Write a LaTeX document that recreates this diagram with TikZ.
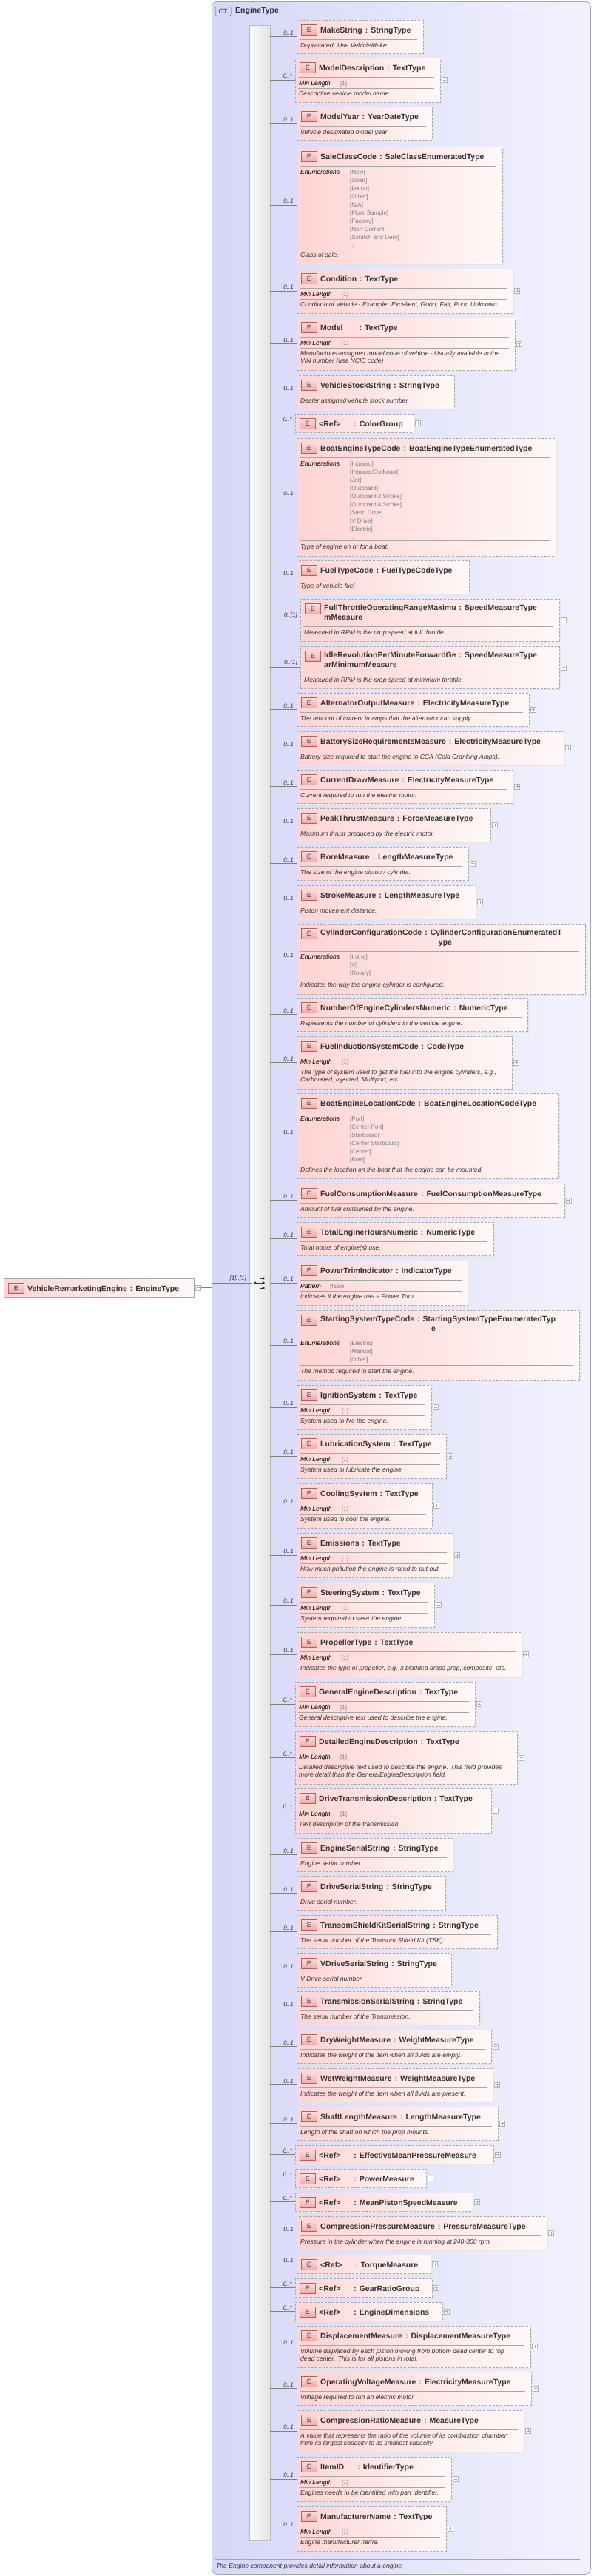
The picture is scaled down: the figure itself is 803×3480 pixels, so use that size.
\documentclass[tikz,border=0pt]{standalone}
\usepackage{fontspec}
\setmainfont{Liberation Sans}
\usetikzlibrary{shadows}
\definecolor{ctL}{HTML}{D6D6F8}
\definecolor{ctR}{HTML}{F2F2FE}
\definecolor{eL}{HTML}{FFD4D4}
\definecolor{eR}{HTML}{FFF8F8}
\definecolor{tx}{HTML}{333333}
\definecolor{bd}{HTML}{A8A8A8}
\definecolor{iconB}{HTML}{B06060}
\definecolor{iconF}{HTML}{F4A8A8}
\tikzset{
 ebox/.style={draw=bd, line width=0.8pt, dash pattern=on 3pt off 2pt, left color=eL, right color=eR, inner sep=0pt, outer sep=0pt, general shadow={fill=black!10, shadow xshift=2pt, shadow yshift=-2pt}},
 rootbox/.style={draw=bd, line width=0.8pt, left color=eL, right color=eR, inner sep=0pt, outer sep=0pt, general shadow={fill=black!10, shadow xshift=2pt, shadow yshift=-2pt}},
 eicon/.style={draw=iconB, line width=0.6pt, top color=white!60!iconF, bottom color=iconF, minimum width=21pt, minimum height=14pt, inner sep=0pt, font=\fontsize{9}{9}\selectfont, text=tx},
 ttl/.style={anchor=base west, inner sep=0pt, font=\fontsize{10.5}{12}\selectfont\bfseries, text=tx},
 dsc/.style={anchor=base west, inner sep=0pt, font=\fontsize{8.6}{10}\selectfont\itshape, text=tx},
 fct/.style={anchor=base west, inner sep=0pt, font=\fontsize{8.6}{10}\selectfont\itshape, text=black},
 val/.style={anchor=base west, inner sep=0pt, font=\fontsize{8}{10}\selectfont, text=gray},
 enm/.style={anchor=north west, inner sep=0pt, align=left, font=\fontsize{8}{11}\selectfont, text=gray},
 card/.style={anchor=south east, inner sep=0pt, font=\fontsize{8}{9}\selectfont\itshape, text=tx},
 conn/.style={draw=gray, line width=0.6pt},
 sepl/.style={draw=gray!70, line width=0.6pt},
 plusbox/.style={draw=gray!60, fill=white, minimum size=7pt, inner sep=0pt},
 ctbox/.style={draw=gray!70, line width=0.8pt, rounded corners=7pt, left color=ctL, right color=ctR, inner sep=0pt},
 ctbadge/.style={draw=gray!80!blue, rounded corners=2pt, fill=ctL!70!blue!40, minimum width=21pt, minimum height=12pt, inner sep=0pt, font=\fontsize{9}{9}\selectfont, text=tx},
 seqbar/.style={draw=gray!55, left color=gray!3, right color=gray!22, inner sep=0pt, general shadow={fill=black!10, shadow xshift=2pt, shadow yshift=-2pt}},
}
\newcommand\tyy[2]{#1\hspace{4pt}:\hspace{4pt}#2}
\newcommand\eb[7]{%
 \pgfmathsetmacro\ebw{#4-#2}\pgfmathsetmacro\ebh{#5-#3}%
 \node[ebox, minimum width=\ebw pt, minimum height=\ebh pt, anchor=north west] (#1) at (#2,#3) {};
 \draw[conn] (seq.east |- #1.west) -- (#1.west);
 \node[card] at ([xshift=-4pt,yshift=2pt]#1.west) {#6};
 \node[eicon, anchor=north west] at ([xshift=6pt,yshift=-6pt]#1.north west) {E};
 \ifnum#7=1
  \node[plusbox] (#1p) at ([xshift=6pt]#1.east) {};
  \draw[gray!70] ([xshift=-2pt]#1p.center) -- ([xshift=2pt]#1p.center) ([yshift=-2pt]#1p.center) -- ([yshift=2pt]#1p.center);
 \fi}
\newcommand\eT[2]{\node[ttl] at ([xshift=32pt,yshift=-17pt]#1.north west) {#2};}
\newcommand\eS[2]{\draw[sepl] ([xshift=4pt,yshift=-#2pt]#1.north west) -- ([xshift=-8pt,yshift=-#2pt]#1.north east);}
\newcommand\eD[3]{\node[dsc] at ([xshift=5pt,yshift=-#2pt]#1.north west) {#3};}
\newcommand\eF[5]{\node[fct] at ([xshift=5pt,yshift=-#2pt]#1.north west) {#3};\node[val] at ([xshift=#4pt,yshift=-#2pt]#1.north west) {#5};}
\newcommand\eEN[3]{\node[fct] at ([xshift=5pt,yshift=-#2pt]#1.north west) {Enumerations};%
 \pgfmathsetmacro\ent{#2-5.9}\node[enm] at ([xshift=72pt,yshift=-\ent pt]#1.north west) {#3};}
\newcommand\eA[8]{\pgfmathsetmacro\bb{#3+45}\eb{#1}{#2}{#3}{#4}{\bb}{#5}{#6}\eT{#1}{#7}\eS{#1}{26}\eD{#1}{37}{#8}}
\newcommand\eAT[9]{\pgfmathsetmacro\bb{#3+56}\eb{#1}{#2}{#3}{#4}{\bb}{#5}{#6}\eT{#1}{#7}\eS{#1}{26}\eD{#1}{37}{#8}\eD{#1}{47}{#9}}
\newcommand\eB[8]{\pgfmathsetmacro\bb{#3+60}\eb{#1}{#2}{#3}{#4}{\bb}{#5}{#6}\eT{#1}{#7}\eS{#1}{26}\eF{#1}{37}{Min Length}{61}{[1]}\eS{#1}{41}\eD{#1}{51}{#8}}
\newcommand\eBT[9]{\pgfmathsetmacro\bb{#3+71}\eb{#1}{#2}{#3}{#4}{\bb}{#5}{#6}\eT{#1}{#7}\eS{#1}{26}\eF{#1}{37}{Min Length}{61}{[1]}\eS{#1}{41}\eD{#1}{51}{#8}\eD{#1}{61}{#9}}
\newcommand\eR[6]{\pgfmathsetmacro\bb{#3+25}\eb{#1}{#2}{#3}{#4}{\bb}{#5}{1}\eT{#1}{<Ref>\hspace{18pt}: #6}}
\begin{document}
\begin{tikzpicture}[x=1pt,y=-1pt]
\useasboundingbox (0,0) rectangle (803,3480);
\fill[white] (0,0) rectangle (803,3480);
% complex type frame
\node[ctbox, minimum width=512pt, minimum height=3475pt, anchor=north west] (ct) at (286,2) {};
\node[ctbadge, anchor=north west] (ctb) at (291,9) {CT};
\node[ttl] (ctt) at (318,17) {EngineType};
\draw[sepl] (290,3457) -- (784,3457);
\node[dsc] (ctd) at (292,3469) {The Engine component provides detail information about a engine.};
% sequence bar
\node[seqbar, minimum width=28pt, minimum height=3398pt, anchor=north west] (seq) at (337,34) {};
% root element
\node[rootbox, minimum width=257pt, minimum height=25pt, anchor=north west] (root) at (5,1727) {};
\node[eicon, anchor=north west] at ([xshift=6pt,yshift=-6pt]root.north west) {E};
\node[ttl] at ([xshift=32pt,yshift=-17pt]root.north west) {\tyy{VehicleRemarketingEngine}{EngineType}};
\node[plusbox] (rootm) at ([xshift=6pt]root.east) {};
\draw[gray!70] ([xshift=-2pt]rootm.center) -- ([xshift=2pt]rootm.center);
\draw[conn] (rootm.east) -- (rootm.east -| ct.west);
\coordinate (seqin) at (341,1733);
\draw[conn] (ct.west |- seqin) -- (seqin);
\node[card] at (333,1731) {[1]..[1]};
% sequence icon
\draw[tx, line width=0.7pt] (345,1733) -- (351,1733) (351,1727) -- (351,1740) (351,1727) -- (356,1727) (351,1733) -- (356,1733) (351,1740) -- (356,1740);
\fill[tx] (345,1733) circle (1.7pt) (356,1727) circle (1.8pt) (356,1733) circle (1.8pt) (356,1740) circle (1.8pt);
% elements
\eA{mk}{401}{27}{572}{0..1}{0}{\tyy{MakeString}{StringType}}{Depracated: Use VehicleMake}
\eB{md}{399}{78}{595}{0..*}{1}{\tyy{ModelDescription}{TextType}}{Descriptive vehicle model name}
\eA{my}{401}{144}{584}{0..1}{0}{\tyy{ModelYear}{YearDateType}}{Vehicle designated model year}
\eb{sc}{401}{198}{679}{356}{0..1}{0}
\eT{sc}{\tyy{SaleClassCode}{SaleClassEnumeratedType}}\eS{sc}{26}
\eEN{sc}{37}{[New]\\{}[Used]\\{}[Demo]\\{}[Other]\\{}[N/A]\\{}[Floor Sample]\\{}[Factory]\\{}[Non-Current]\\{}[Scratch and Dent]\\{}...}
\eS{sc}{138}\eD{sc}{149}{Class of sale.}
\eB{cd}{401}{363}{693}{0..1}{1}{\tyy{Condition}{TextType}}{Condition of Vehicle - Example: Excellent, Good, Fair, Poor, Unknown}
\eBT{mo}{401}{429}{696}{0..1}{1}{Model\hspace{22pt}:\hspace{4pt}TextType}{Manufacturer-assigned model code of vehicle - Usually available in the}{VIN number (use NCIC code)}
\eA{vs}{401}{507}{614}{0..1}{0}{\tyy{VehicleStockString}{StringType}}{Dealer assigned vehicle stock number}
\eR{cg}{399}{559}{559}{0..*}{ColorGroup}
\eb{be}{401}{592}{751}{751}{0..1}{0}
\eT{be}{\tyy{BoatEngineTypeCode}{BoatEngineTypeEnumeratedType}}\eS{be}{26}
\eEN{be}{37}{[Inboard]\\{}[Inboard/Outboard]\\{}[Jet]\\{}[Outboard]\\{}[Outboard 2 Stroke]\\{}[Outboard 4 Stroke]\\{}[Stern Drive]\\{}[V Drive]\\{}[Electric]\\{}...}
\eS{be}{138}\eD{be}{149}{Type of engine on or for a boat.}
\eA{ft}{401}{757}{634}{0..1}{0}{\tyy{FuelTypeCode}{FuelTypeCodeType}}{Type of vehicle fuel}
\eb{fr}{406}{809}{756}{866}{0..[1]}{1}
\node[ttl] at ([xshift=32pt,yshift=-15pt]fr.north west) {\tyy{FullThrottleOperatingRangeMaximu}{SpeedMeasureType}};
\node[ttl] at ([xshift=32pt,yshift=-28pt]fr.north west) {mMeasure};
\eS{fr}{37}\eD{fr}{48}{Measured in RPM is the prop speed at full throttle.}
\eb{ir}{406}{873}{756}{930}{0..[1]}{1}
\node[ttl] at ([xshift=32pt,yshift=-15pt]ir.north west) {\tyy{IdleRevolutionPerMinuteForwardGe}{SpeedMeasureType}};
\node[ttl] at ([xshift=32pt,yshift=-28pt]ir.north west) {arMinimumMeasure};
\eS{ir}{37}\eD{ir}{48}{Measured in RPM is the prop speed at minimum throttle.}
\eA{ao}{401}{936}{715}{0..1}{1}{\tyy{AlternatorOutputMeasure}{ElectricityMeasureType}}{The amount of current in amps that the alternator can supply.}
\eA{bs}{401}{988}{762}{0..1}{1}{\tyy{BatterySizeRequirementsMeasure}{ElectricityMeasureType}}{Battery size required to start the engine in CCA (Cold Cranking Amps).}
\eA{cdm}{401}{1040}{693}{0..1}{1}{\tyy{CurrentDrawMeasure}{ElectricityMeasureType}}{Current required to run the electric motor.}
\eA{pt}{401}{1092}{663}{0..1}{1}{\tyy{PeakThrustMeasure}{ForceMeasureType}}{Maximum thrust produced by the electric motor.}
\eA{bo}{401}{1144}{633}{0..1}{1}{\tyy{BoreMeasure}{LengthMeasureType}}{The size of the engine piston / cylinder.}
\eA{st}{401}{1196}{643}{0..1}{1}{\tyy{StrokeMeasure}{LengthMeasureType}}{Piston movement distance.}
\eb{cc}{401}{1248}{791}{1343}{0..1}{0}
\node[ttl] at ([xshift=32pt,yshift=-15pt]cc.north west) {\tyy{CylinderConfigurationCode}{CylinderConfigurationEnumeratedT}};
\node[ttl, anchor=base] at ([xshift=201pt,yshift=-28pt]cc.north west) {ype};
\eS{cc}{37}\eEN{cc}{47}{[Inline]\\{}[V]\\{}[Rotary]}
\eS{cc}{74}\eD{cc}{85}{Indicates the way the engine cylinder is configured.}
\eA{nc}{401}{1348}{713}{0..1}{0}{\tyy{NumberOfEngineCylindersNumeric}{NumericType}}{Represents the number of cylinders in the vehicle engine.}
\eBT{fi}{401}{1400}{692}{0..1}{1}{\tyy{FuelInductionSystemCode}{CodeType}}{The type of system used to get the fuel into the engine cylinders, e.g.,}{Carborated, Injected, Multiport, etc.}
\eb{bl}{401}{1477}{755}{1592}{0..1}{0}
\eT{bl}{\tyy{BoatEngineLocationCode}{BoatEngineLocationCodeType}}\eS{bl}{26}
\eEN{bl}{37}{[Port]\\{}[Center Port]\\{}[Starboard]\\{}[Center Starboard]\\{}[Center]\\{}[Bow]}
\eS{bl}{95}\eD{bl}{106}{Defines the location on the boat that the engine can be mounted.}
\eA{fc}{401}{1599}{763}{0..1}{1}{\tyy{FuelConsumptionMeasure}{FuelConsumptionMeasureType}}{Amount of fuel consumed by the engine.}
\eA{te}{401}{1651}{667}{0..1}{0}{\tyy{TotalEngineHoursNumeric}{NumericType}}{Total hours of engine(s) use.}
\eb{ptr}{401}{1703}{632}{1763}{0..1}{0}
\eT{ptr}{\tyy{PowerTrimIndicator}{IndicatorType}}\eS{ptr}{26}\eF{ptr}{37}{Pattern}{45}{[false]}\eS{ptr}{41}\eD{ptr}{51}{Indicates if the engine has a Power Trim.}
\eb{ss}{401}{1770}{783}{1864}{0..1}{0}
\node[ttl] at ([xshift=32pt,yshift=-15pt]ss.north west) {\tyy{StartingSystemTypeCode}{StartingSystemTypeEnumeratedTyp}};
\node[ttl, anchor=base] at ([xshift=185pt,yshift=-28pt]ss.north west) {e};
\eS{ss}{37}\eEN{ss}{47}{[Electric]\\{}[Manual]\\{}[Other]}
\eS{ss}{74}\eD{ss}{85}{The method required to start the engine.}
\eB{ig}{401}{1871}{583}{0..1}{1}{\tyy{IgnitionSystem}{TextType}}{System used to fire the engine.}
\eB{lu}{401}{1937}{603}{0..1}{1}{\tyy{LubricationSystem}{TextType}}{System used to lubricate the engine.}
\eB{co}{401}{2004}{584}{0..1}{1}{\tyy{CoolingSystem}{TextType}}{System used to cool the engine.}
\eB{em}{401}{2071}{612}{0..1}{1}{\tyy{Emissions}{TextType}}{How much pollution the engine is rated to put out.}
\eB{sts}{401}{2138}{587}{0..1}{1}{\tyy{SteeringSystem}{TextType}}{System required to steer the engine.}
\eB{pr}{401}{2205}{705}{0..1}{1}{\tyy{PropellerType}{TextType}}{Indicates the type of propeller, e.g. 3 bladded brass prop, composite, etc.}
\eB{ge}{399}{2272}{642}{0..*}{1}{\tyy{GeneralEngineDescription}{TextType}}{General descriptive text used to describe the engine.}
\eBT{de}{399}{2339}{699}{0..*}{1}{\tyy{DetailedEngineDescription}{TextType}}{Detailed descriptive text used to describe the engine. This field provides}{more detail than the GeneralEngineDescription field.}
\eB{dt}{399}{2416}{664}{0..*}{1}{\tyy{DriveTransmissionDescription}{TextType}}{Text description of the transmission.}
\eA{es}{401}{2483}{612}{0..1}{0}{\tyy{EngineSerialString}{StringType}}{Engine serial number.}
\eA{ds}{401}{2535}{602}{0..1}{0}{\tyy{DriveSerialString}{StringType}}{Drive serial number.}
\eA{ts}{401}{2587}{672}{0..1}{0}{\tyy{TransomShieldKitSerialString}{StringType}}{The serial number of the Transom Shield Kit (TSK).}
\eA{vd}{401}{2639}{610}{0..1}{0}{\tyy{VDriveSerialString}{StringType}}{V-Drive serial number.}
\eA{tr}{401}{2690}{648}{0..1}{0}{\tyy{TransmissionSerialString}{StringType}}{The serial number of the Transmission.}
\eA{dw}{401}{2742}{664}{0..1}{1}{\tyy{DryWeightMeasure}{WeightMeasureType}}{Indicates the weight of the item when all fluids are empty.}
\eA{ww}{401}{2794}{666}{0..1}{1}{\tyy{WetWeightMeasure}{WeightMeasureType}}{Indicates the weight of the item when all fluids are present.}
\eA{sl}{401}{2846}{673}{0..1}{1}{\tyy{ShaftLengthMeasure}{LengthMeasureType}}{Length of the shaft on which the prop mounts.}
\eR{ra}{399}{2898}{667}{0..*}{EffectiveMeanPressureMeasure}
\eR{rb}{399}{2930}{576}{0..*}{PowerMeasure}
\eR{rc}{399}{2962}{639}{0..*}{MeanPistonSpeedMeasure}
\eA{cp}{401}{2994}{739}{0..1}{1}{\tyy{CompressionPressureMeasure}{PressureMeasureType}}{Pressure in the cylinder when the engine is running at 240-300 rpm}
\eR{rd}{401}{3046}{582}{0..1}{TorqueMeasure}
\eR{re}{399}{3078}{584}{0..*}{GearRatioGroup}
\eR{rf}{399}{3110}{598}{0..*}{EngineDimensions}
\eAT{dm}{401}{3142}{717}{0..1}{1}{\tyy{DisplacementMeasure}{DisplacementMeasureType}}{Volume displaced by each piston moving from bottom dead center to top}{dead center. This is for all pistons in total.}
\eA{ov}{401}{3204}{718}{0..1}{1}{\tyy{OperatingVoltageMeasure}{ElectricityMeasureType}}{Voltage required to run an electric motor.}
\eAT{cr}{401}{3256}{708}{0..1}{1}{\tyy{CompressionRatioMeasure}{MeasureType}}{A value that represents the ratio of the volume of its combustion chamber;}{from its largest capacity to its smallest capacity}
\eB{iid}{401}{3319}{610}{0..1}{1}{ItemID\hspace{18pt}:\hspace{4pt}IdentifierType}{Engines needs to be identified with part identifier.}
\eB{mn}{401}{3386}{603}{0..1}{1}{\tyy{ManufacturerName}{TextType}}{Engine manufacturer name.}
\end{tikzpicture}
\end{document}
